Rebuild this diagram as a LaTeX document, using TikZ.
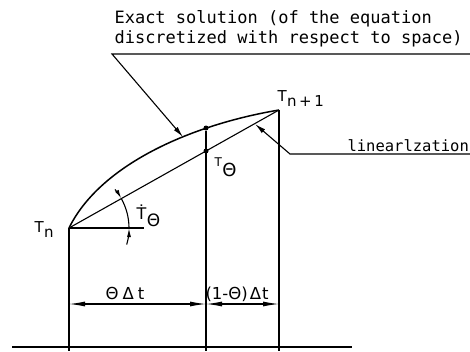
\documentclass[tikz,border=0pt]{standalone}
\usepackage{fontspec}
\setmainfont{DejaVu Sans}
\newfontfamily\notefont{DejaVu Sans Mono}
\usepackage{tikz}
\usetikzlibrary{arrows.meta,positioning}
\newcommand{\idx}[3][5pt]{#2\kern0.5pt\raisebox{-#1}{#3}}

\begin{document}
\begin{tikzpicture}[x=1pt,y=-1pt,line width=1.1pt,
        dimarrow/.style={{Latex[length=16pt,width=5pt]}-{Latex[length=16pt,width=5pt]}},
        leader/.style={-{Latex[length=11pt,width=5pt]}},
        anglearrow/.style={-{Latex[length=9pt,width=4pt]}},
        dot/.style={circle,fill,inner sep=0pt,minimum size=5pt},
        lbl/.style={inner sep=0pt,anchor=base west,font=\fontsize{15}{15}\selectfont},
        note/.style={inner sep=0pt,align=left,font=\notefont\fontsize{17}{20}\selectfont}]
        \useasboundingbox (0,0) rectangle (470,351);

        % points of the step
        \coordinate (tn)  at (69,228);
        \coordinate (tn1) at (279,110);
        \node[dot] (ttheta) at (206,151) {};
        \node[dot] (texact) at (206,128) {};

        % exact solution and linearization
        \draw[line width=1.5pt] (tn) .. controls (100,165) and (190,125) .. (tn1);
        \draw (tn) -- (tn1);
        \coordinate (tnh) at (144,228);
        \draw (tn) -- (tnh);

        % verticals and base line
        \coordinate (tnbase) at (69,351);
        \coordinate (thbase) at (206,351);
        \coordinate (tn1base) at (279,351);
        \draw (tn) -- (tnbase);
        \draw (texact) -- (thbase);
        \draw (tn1) -- (tn1base);
        \coordinate (axl) at (12,347);
        \coordinate (axr) at (352,347);
        \draw (axl) -- (axr);

        % angle of the slope
        \draw[anglearrow] ([shift={(-40:60)}]tn) arc[start angle=-40,end angle=-29.3,radius=60];
        \draw ([shift={(-29.3:60)}]tn) arc[start angle=-29.3,end angle=0,radius=60];
        \draw[anglearrow] ([shift={(16:60)}]tn) arc[start angle=16,end angle=0,radius=60];

        % time steps
        \coordinate (d1) at (69,304);
        \coordinate (d2) at (206,304);
        \coordinate (d3) at (279,304);
        \draw[dimarrow] (d1) -- (d2);
        \draw[dimarrow] (d2) -- (d3);
        \node[lbl,font=\fontsize{16.5}{16}\selectfont] (lstep1) at (105,299) {Θ\kern4pt Δ\kern4pt t};
        \node[lbl,font=\fontsize{16.5}{16}\selectfont] (lstep2) at (205,299) {(1-Θ)\kern2pt Δ\kern1pt t};

        % labels
        \node[lbl] (ltn)  at (34,232) {\idx{T}{n}};
        \node[lbl] (ltn1) at (277,101) {\idx{T}{n\,+\,1}};
        \node[lbl] (lth)  at (214,166) {\idx[10pt]{\fontsize{12}{12}\selectfont T}{\fontsize{18}{18}\selectfont Θ}};
        \node[lbl] (ldot) at (136,219) {\idx[7pt]{\fontsize{16}{16}\selectfont Ṫ}{\fontsize{17}{17}\selectfont Θ}};

        % leaders
        \coordinate (exk) at (112,54);
        \coordinate (exend) at (470,54);
        \coordinate (extip) at (183,137);
        \draw[leader] (exend) -- (exk) -- (extip);
        \node[note,anchor=north west] (lexact) at (114,10)
            {Exact solution (of the equation\\discretized with respect to space)};
        \coordinate (link) at (290,154);
        \coordinate (linend) at (470,154);
        \coordinate (lintip) at (255,124);
        \draw[leader] (linend) -- (link) -- (lintip);
        \node[note,anchor=base west,font=\notefont\fontsize{15.5}{16}\selectfont] (llin) at (347,151) {linearlzation};
    \end{tikzpicture}
\end{document}
